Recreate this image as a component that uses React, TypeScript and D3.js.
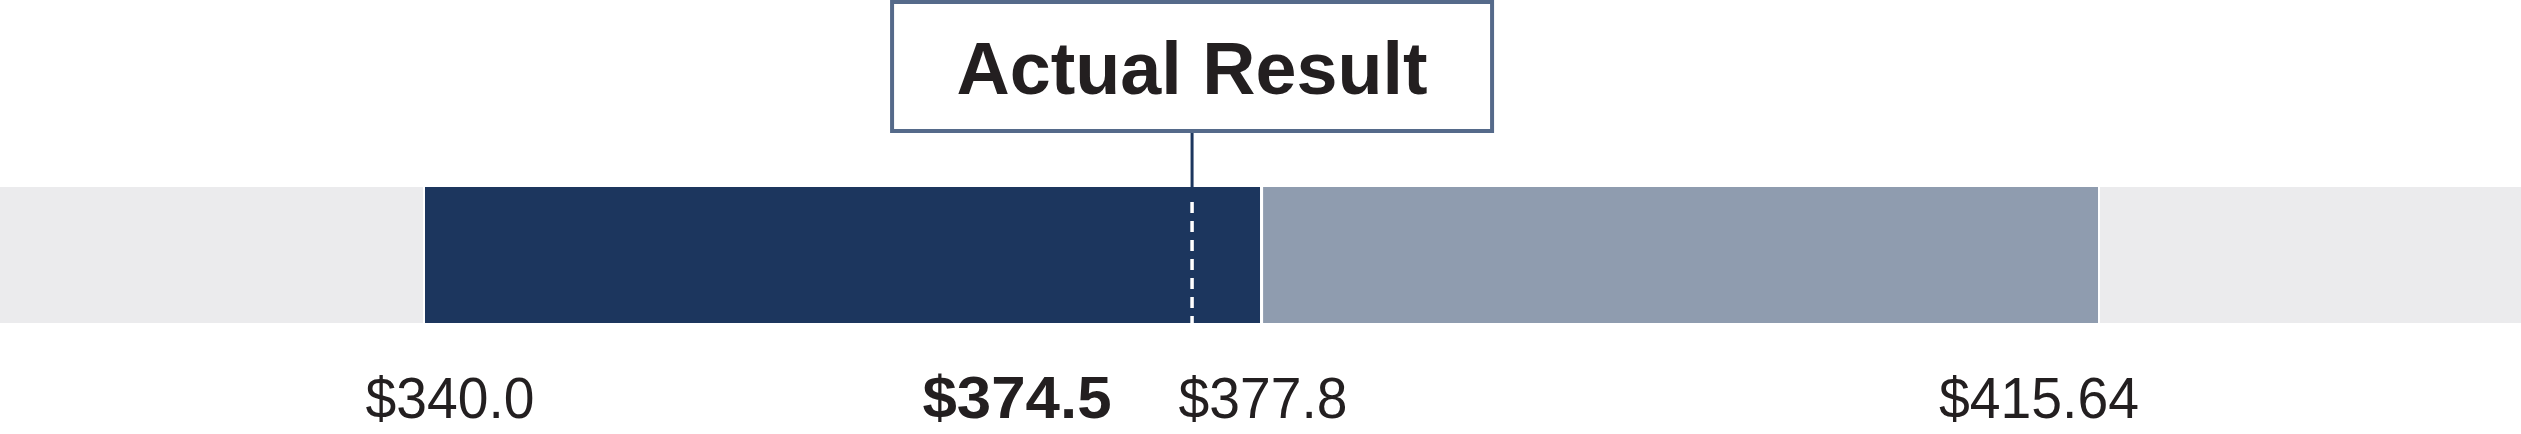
import React from "react";
import * as d3 from "d3";

// ---- data ----
const rangeValues: number[] = [340.0, 377.8, 415.64];
const actualValue = 374.5;
const tickLabels: string[] = ["$340.0", "$377.8", "$415.64"];
const actualLabel = "$374.5";
const calloutText = "Actual Result";

const W = 2521;
const H = 434;

export default function App() {
  const x = d3.scaleLinear().domain([rangeValues[0], rangeValues[2]]).range([425, 2098]);
  const barTop = 187;
  const barBottom = 323;
  const actualX = x(actualValue) + 4;
  const boxW = 600;
  const boxTop = 2;
  const boxBottom = 131;
  const labelDx = [25, 2, -59];
  const labelW = [169, 169, 200];
  const font = "'Liberation Sans', Arial, sans-serif";
  return (
    <svg
      width={W}
      height={H}
      style={{ position: "absolute", left: 0, top: 0, background: "#fff" }}
    >
      {/* background band */}
      <rect x={0} y={barTop} width={W} height={barBottom - barTop} fill="#ebebed" />
      {/* dark segment */}
      <rect
        x={x(rangeValues[0])}
        y={barTop}
        width={x(rangeValues[1]) - x(rangeValues[0]) - 1}
        height={barBottom - barTop}
        fill="#1c365e"
      />
      {/* medium segment */}
      <rect
        x={x(rangeValues[1]) + 2}
        y={barTop}
        width={x(rangeValues[2]) - x(rangeValues[1]) - 2}
        height={barBottom - barTop}
        fill="#8f9caf"
      />
      {/* white separators */}
      <line x1={x(rangeValues[0]) - 1} x2={x(rangeValues[0]) - 1} y1={barTop} y2={barBottom} stroke="#fff" strokeWidth={2} />
      <line x1={x(rangeValues[1]) + 0.5} x2={x(rangeValues[1]) + 0.5} y1={barTop} y2={barBottom} stroke="#fff" strokeWidth={3} />
      <line x1={x(rangeValues[2]) + 1} x2={x(rangeValues[2]) + 1} y1={barTop} y2={barBottom} stroke="#fff" strokeWidth={2} />
      {/* actual dashed line */}
      <line
        x1={actualX}
        x2={actualX}
        y1={barTop + 15}
        y2={barBottom}
        stroke="#fff"
        strokeWidth={3.5}
        strokeDasharray="11 8"
      />
      {/* connector */}
      <line x1={actualX} x2={actualX} y1={boxBottom} y2={barTop} stroke="#1c365e" strokeWidth={3} />
      {/* callout box */}
      <rect
        x={actualX - boxW / 2}
        y={boxTop}
        width={boxW}
        height={boxBottom - boxTop}
        fill="#fff"
        stroke="#556a8a"
        strokeWidth={4}
      />
      <text
        x={actualX}
        y={94}
        textAnchor="middle"
        fontFamily={font}
        fontWeight="bold"
        fontSize={75}
        fill="#231f20"
        textLength={471}
        lengthAdjust="spacingAndGlyphs"
      >
        {calloutText}
      </text>
      {/* tick labels */}
      {rangeValues.map((v, i) => (
        <text
          key={i}
          x={x(v) + labelDx[i]}
          y={418}
          textAnchor="middle"
          fontFamily={font}
          fontSize={58}
          fill="#231f20"
          textLength={labelW[i]}
          lengthAdjust="spacingAndGlyphs"
        >
          {tickLabels[i]}
        </text>
      ))}
      <text
        x={1017}
        y={418}
        textAnchor="middle"
        fontFamily={font}
        fontWeight="bold"
        fontSize={60}
        fill="#231f20"
        textLength={189}
        lengthAdjust="spacingAndGlyphs"
      >
        {actualLabel}
      </text>
    </svg>
  );
}
